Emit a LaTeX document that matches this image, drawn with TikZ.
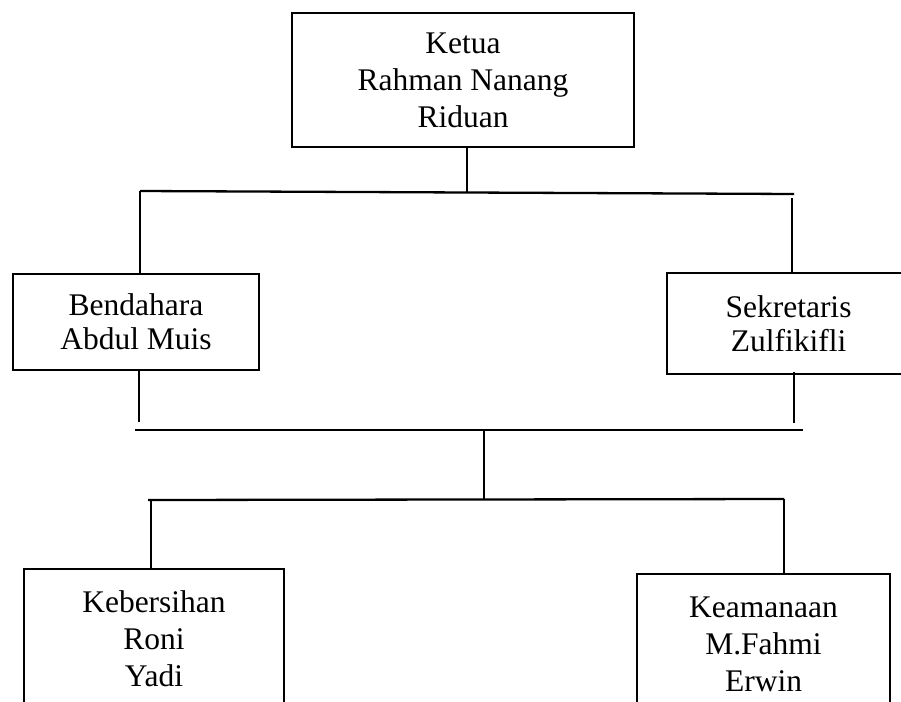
\documentclass[tikz,border=0pt]{standalone}
\usepackage{fontspec}
\setmainfont{Liberation Serif}
\begin{document}
\begin{tikzpicture}[x=1pt,y=-1pt,
  box/.style={draw=black,line width=2.3pt,rectangle,inner sep=0pt,align=center,fill=white},
  big/.style={font=\fontsize{31.5}{37}\selectfont},
  mid/.style={font=\fontsize{31.5}{34}\selectfont},
  conn/.style={draw=black,line width=2.3pt}]
\useasboundingbox (0,0) rectangle (901,701);
\fill[white] (0,0) rectangle (901,701);
\node[box,big,minimum width=342pt,minimum height=134pt] (ketua) at (463,80) {Ketua\\Rahman Nanang\\Riduan};
\node[box,mid,minimum width=246pt,minimum height=96pt] (bend) at (136,322) {Bendahara\\Abdul Muis};
\node[box,mid,minimum width=243pt,minimum height=101pt] (sekr) at (788.5,323.5) {Sekretaris\\Zulfikifli};
\node[box,big,minimum width=260pt,minimum height=140pt] (keb) at (154,639) {Kebersihan\\Roni\\Yadi};
\node[box,big,minimum width=253pt,minimum height=140pt] (keam) at (763.5,644) {Keamanaan\\M.Fahmi\\Erwin};
% top bus
\coordinate (k1) at (467,192);
\coordinate (b1L) at (140,191);
\coordinate (b1R) at (794,194);
\coordinate (r1) at (792,198);
\draw[conn] (ketua.south -| k1) -- (k1);
\draw[conn] (b1L) -- (b1R);
\draw[conn] (b1L) -- (bend.north -| b1L);
\draw[conn] (r1) -- (sekr.north -| r1);
% second bus
\coordinate (l2) at (139,422);
\coordinate (r2) at (794,423);
\coordinate (b2L) at (135,430);
\coordinate (b2R) at (803,430);
\coordinate (c2) at (484,430);
\coordinate (c3) at (484,500);
\draw[conn] (bend.south -| l2) -- (l2);
\draw[conn] ([yshift=3pt]sekr.south -| r2) -- (r2);
\draw[conn] (b2L) -- (b2R);
\draw[conn] (c2) -- (c3);
% third bus
\coordinate (b3L) at (148,500);
\coordinate (b3R) at (784,499);
\coordinate (d1) at (151,500);
\draw[conn] (b3L) -- (b3R);
\draw[conn] (d1) -- (keb.north -| d1);
\draw[conn] (b3R) -- (keam.north -| b3R);
\end{tikzpicture}
\end{document}
